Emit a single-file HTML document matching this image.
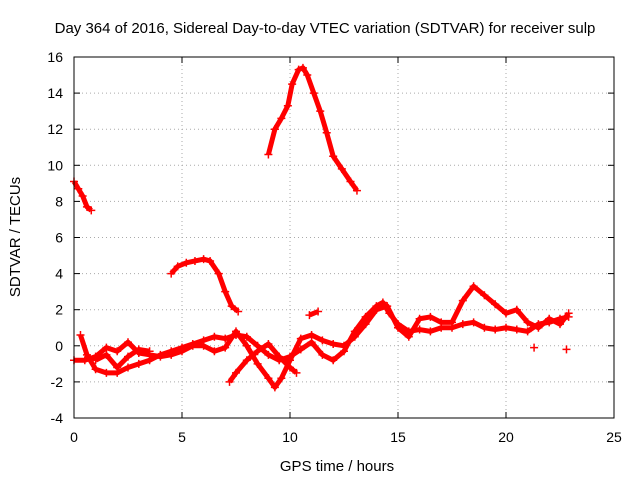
<!DOCTYPE html>
<html><head><meta charset="utf-8"><style>
body{margin:0;background:#fff;}
svg{display:block;font-family:"Liberation Sans",sans-serif;}
</style></head><body>
<svg id="chart" width="640" height="480">
<rect width="640" height="480" fill="#fff"/>
<text x="325" y="33" text-anchor="middle" font-size="15">Day 364 of 2016, Sidereal Day-to-day VTEC variation (SDTVAR) for receiver sulp</text>
<text x="337" y="471" text-anchor="middle" font-size="15">GPS time / hours</text>
<text transform="translate(20,237) rotate(-90)" text-anchor="middle" font-size="15">SDTVAR / TECUs</text>
<g id="grid"></g><g id="series"></g>
<rect x="74" y="57" width="540" height="361" fill="none" stroke="#000"/>
</svg>
<script>
const xTicks=[0,5,10,15,20,25];
const yTicks=[-4,-2,0,2,4,6,8,10,12,14,16];
const s1=[[0,9.1],[0.2,8.7],[0.4,8.3],[0.6,7.7],[0.8,7.5]];
const s2=[[9.0,10.6],[9.3,12],[9.6,12.6],[9.9,13.3],[10.1,14.5],[10.4,15.3],[10.6,15.4],[10.8,15],[11.1,14],[11.4,13],[11.7,11.8],[12.0,10.5],[12.4,9.8],[12.8,9.1],[13.1,8.6]];
const s3=[[4.5,4.0],[4.8,4.4],[5.2,4.6],[5.6,4.7],[6.0,4.8],[6.3,4.7],[6.7,4.0],[7.0,3.0],[7.3,2.2],[7.6,1.9]];
const bandA=[[0.3,0.6],[0.6,-0.5],[1.0,-1.3],[1.5,-1.5],[2.0,-1.5],[2.5,-1.2],[3,-1.0],[3.5,-0.8],[4,-0.5],[4.5,-0.3],[5,-0.1],[5.5,0.1],[6,0.3],[6.5,0.5],[7,0.4],[7.5,0.6],[8,0.5],[8.5,0.0],[9,-0.5],[9.5,-0.8],[10,-0.6],[10.5,-0.2],[11,0.2],[11.5,-0.5],[12,-0.8],[12.5,-0.3],[13,0.8],[13.5,1.6],[14,2.2],[14.3,2.4],[14.6,1.8],[15,1.2],[15.5,0.8],[16,0.9],[16.5,0.8],[17,1.0],[17.5,1.0],[18,1.2],[18.5,1.3],[19,1.0],[19.5,0.9],[20,1.0],[20.5,0.9],[21,0.8],[21.5,1.2],[22,1.3],[22.5,1.5],[22.9,1.6]];
const bandB=[[0,-0.8],[0.5,-0.8],[1,-0.6],[1.5,-0.1],[2,-0.3],[2.5,0.2],[3,-0.4],[3.5,-0.5],[4,-0.6],[4.5,-0.5],[5,-0.3],[5.5,0.0],[6,0.0],[6.5,-0.3],[7,-0.1],[7.5,0.8],[8,0.0],[8.5,-1.0],[9,-1.8],[9.3,-2.3],[9.6,-1.8],[10,-0.8],[10.5,0.4],[11,0.6],[11.5,0.3],[12,0.1],[12.5,0.0],[13,0.5],[13.5,1.2],[14,2.0],[14.5,2.2],[15,1.0],[15.5,0.5],[16,1.5],[16.5,1.6],[17,1.3],[17.5,1.3],[18,2.5],[18.5,3.3],[19,2.8],[19.5,2.3],[20,1.8],[20.5,2.0],[21,1.3],[21.5,1.0],[22,1.5],[22.5,1.2],[22.9,1.8]];
const bandC=[[7.2,-2.0],[7.5,-1.5],[8,-0.8],[8.5,-0.3],[9,0.1],[9.5,-0.6],[10,-1.2],[10.3,-1.5]];
const bandD=[[1,-0.8],[1.5,-0.5],[2,-1.2],[2.5,-0.6],[3,-0.2],[3.5,-0.3]];
const bandE=[[10.9,1.7],[11.3,1.9]];
const isolated=[[22.8,-0.2],[21.3,-0.1]];
const NS='http://www.w3.org/2000/svg';
const X=v=>74+v*540/25, Y=v=>418-(v+4)*361/20;
const grid=document.getElementById('grid'), ser=document.getElementById('series');
function mk(t,a,p){const e=document.createElementNS(NS,t);for(const k in a)e.setAttribute(k,a[k]);p.appendChild(e);return e;}
xTicks.forEach(t=>{
 if(t>0&&t<25){const l=mk('line',{x1:X(t),x2:X(t),y1:57,y2:418,stroke:'#aaa','stroke-dasharray':'1,3'},grid);
 
 }
 mk('line',{x1:X(t),x2:X(t),y1:418,y2:412,stroke:'#000'},grid);
 mk('line',{x1:X(t),x2:X(t),y1:57,y2:63,stroke:'#000'},grid);
 const tx=mk('text',{x:X(t),y:442,'text-anchor':'middle','font-size':14},grid);tx.textContent=t;
 
 
});
yTicks.forEach(t=>{
 if(t>-4&&t<16){const l=mk('line',{x1:74,x2:614,y1:Y(t),y2:Y(t),stroke:'#aaa','stroke-dasharray':'1,3'},grid);
 
 }
 mk('line',{x1:74,x2:80,y1:Y(t),y2:Y(t),stroke:'#000'},grid);
 mk('line',{x1:614,x2:608,y1:Y(t),y2:Y(t),stroke:'#000'},grid);
 const tx=mk('text',{x:63,y:Y(t)+5,'text-anchor':'end','font-size':14},grid);tx.textContent=t;
 
 
});
function draw(data,name,line){
 const g=mk('g',{},ser);
 
 
 if(line&&data.length>1)mk('polyline',{points:data.map(d=>X(d[0])+','+Y(d[1])).join(' '),fill:'none',stroke:'#f00','stroke-width':5,'stroke-linejoin':'round'},g);
 data.forEach(d=>{const x=X(d[0]),y=Y(d[1]);
  mk('path',{d:`M${x-4},${y}H${x+4}M${x},${y-4}V${y+4}`,stroke:'#f00','stroke-width':1.5},g);});
}
draw(s1,'series-early',true);draw(s2,'series-peak',true);draw(s3,'series-hump',true);
draw(bandA,'series-band-a',true);draw(bandB,'series-band-b',true);draw(bandC,'series-band-c',true);
draw(bandD,'series-band-d',true);draw(bandE,'series-band-e',true);draw(isolated,'series-isolated',false);
</script>
</body></html>
